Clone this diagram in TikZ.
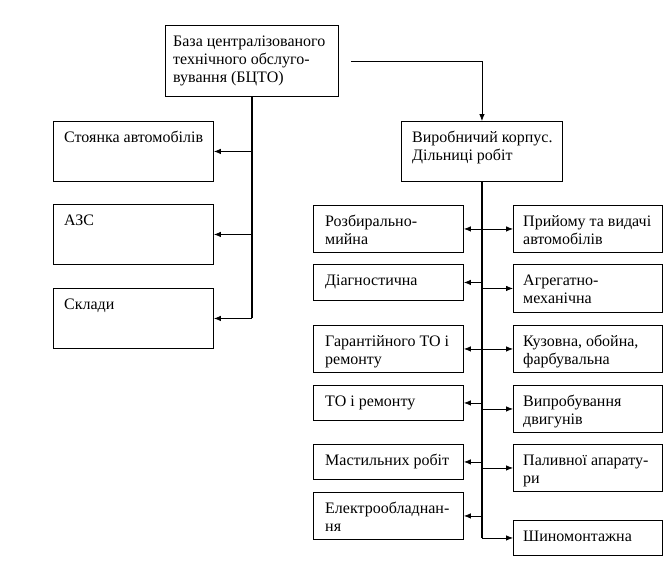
\documentclass[tikz,border=0pt]{standalone}
\usepackage{fontspec}
\setmainfont{Liberation Serif}
\usetikzlibrary{arrows.meta,calc}
\newcommand\bx[7][10]{%
  \node[box,minimum width={#5-#3},minimum height={#6-#4}] (#2) at (#3,#4) {};
  \node[txt] (#2-t) at (#3+#1,#4+8.4) {\strut #7};}
\begin{document}
\begin{tikzpicture}[x=1pt,y=-1pt,
  box/.style={draw,line width=0.9pt,inner sep=0pt,anchor=north west},
  txt/.style={anchor=north west,inner sep=0pt,align=left,font=\fontsize{16}{18}\selectfont},
  arr/.style={-{Latex[length=7pt,width=5.5pt]},line width=0.8pt},
  trunk/.style={line width=1.4pt}]
\useasboundingbox[fill=white] (0,0) rectangle (672,576);
% top and left
\bx[8]{top}{165}{25}{338}{96}{База централізованого\\технічного обслуго-\\вування (БЦТО)}
\bx[11]{stoy}{53}{121}{213}{181}{Стоянка автомобілів}
\bx[11]{azs}{53}{204}{213}{264}{АЗС}
\bx[11]{skl}{53}{288}{213}{348}{Склади}
% production
\bx[11]{vyr}{401}{121}{562}{181}{Виробничий корпус.\\Дільниці робіт}
% left column
\bx[12]{l1}{313}{205}{463}{252}{Розбирально-\\мийна}
\bx[12]{l2}{313}{264}{463}{300}{Діагностична}
\bx[12]{l3}{313}{325}{463}{372}{Гарантійного ТО і\\ремонту}
\bx[12]{l4}{313}{385}{463}{420}{ТО і ремонту}
\bx[12]{l5}{313}{444}{463}{479}{Мастильних робіт}
\bx[12]{l6}{313}{492}{463}{539}{Електрообладнан-\\ня}
% right column
\bx{r1}{513}{205}{662}{252}{Прийому та видачі\\автомобілів}
\bx{r2}{513}{264}{662}{312}{Агрегатно-\\механічна}
\bx{r3}{513}{325}{662}{372}{Кузовна, обойна,\\фарбувальна}
\bx{r4}{513}{385}{662}{432}{Випробування\\двигунів}
\bx{r5}{513}{444}{662}{491}{Паливної апарату-\\ри}
\bx{r6}{513}{520}{662}{555}{Шиномонтажна}
% left trunk
\coordinate (lb) at (top.south |- skl.east);
\draw[trunk] (top.south) -- (lb);
\draw[arr] (lb) -- (skl.east);
\draw[arr] (top.south |- stoy.east) -- (stoy.east);
\draw[arr] (top.south |- azs.east) -- (azs.east);
% link to production
\draw[arr,shorten <=12pt] (top.east) -| (vyr.north);
% right trunk
\coordinate (rb) at (vyr.south |- r6.west);
\draw[trunk] (vyr.south) -- (rb);
\draw[arr] (rb) -- (r6.west);
\foreach \n in {l1,l2,l3,l4,l5,l6}{\draw[arr] (vyr.south |- \n.east) -- (\n.east);}
\foreach \n in {r1,r2,r3,r4,r5}{\draw[arr] (vyr.south |- \n.west) -- (\n.west);}
\end{tikzpicture}
\end{document}
